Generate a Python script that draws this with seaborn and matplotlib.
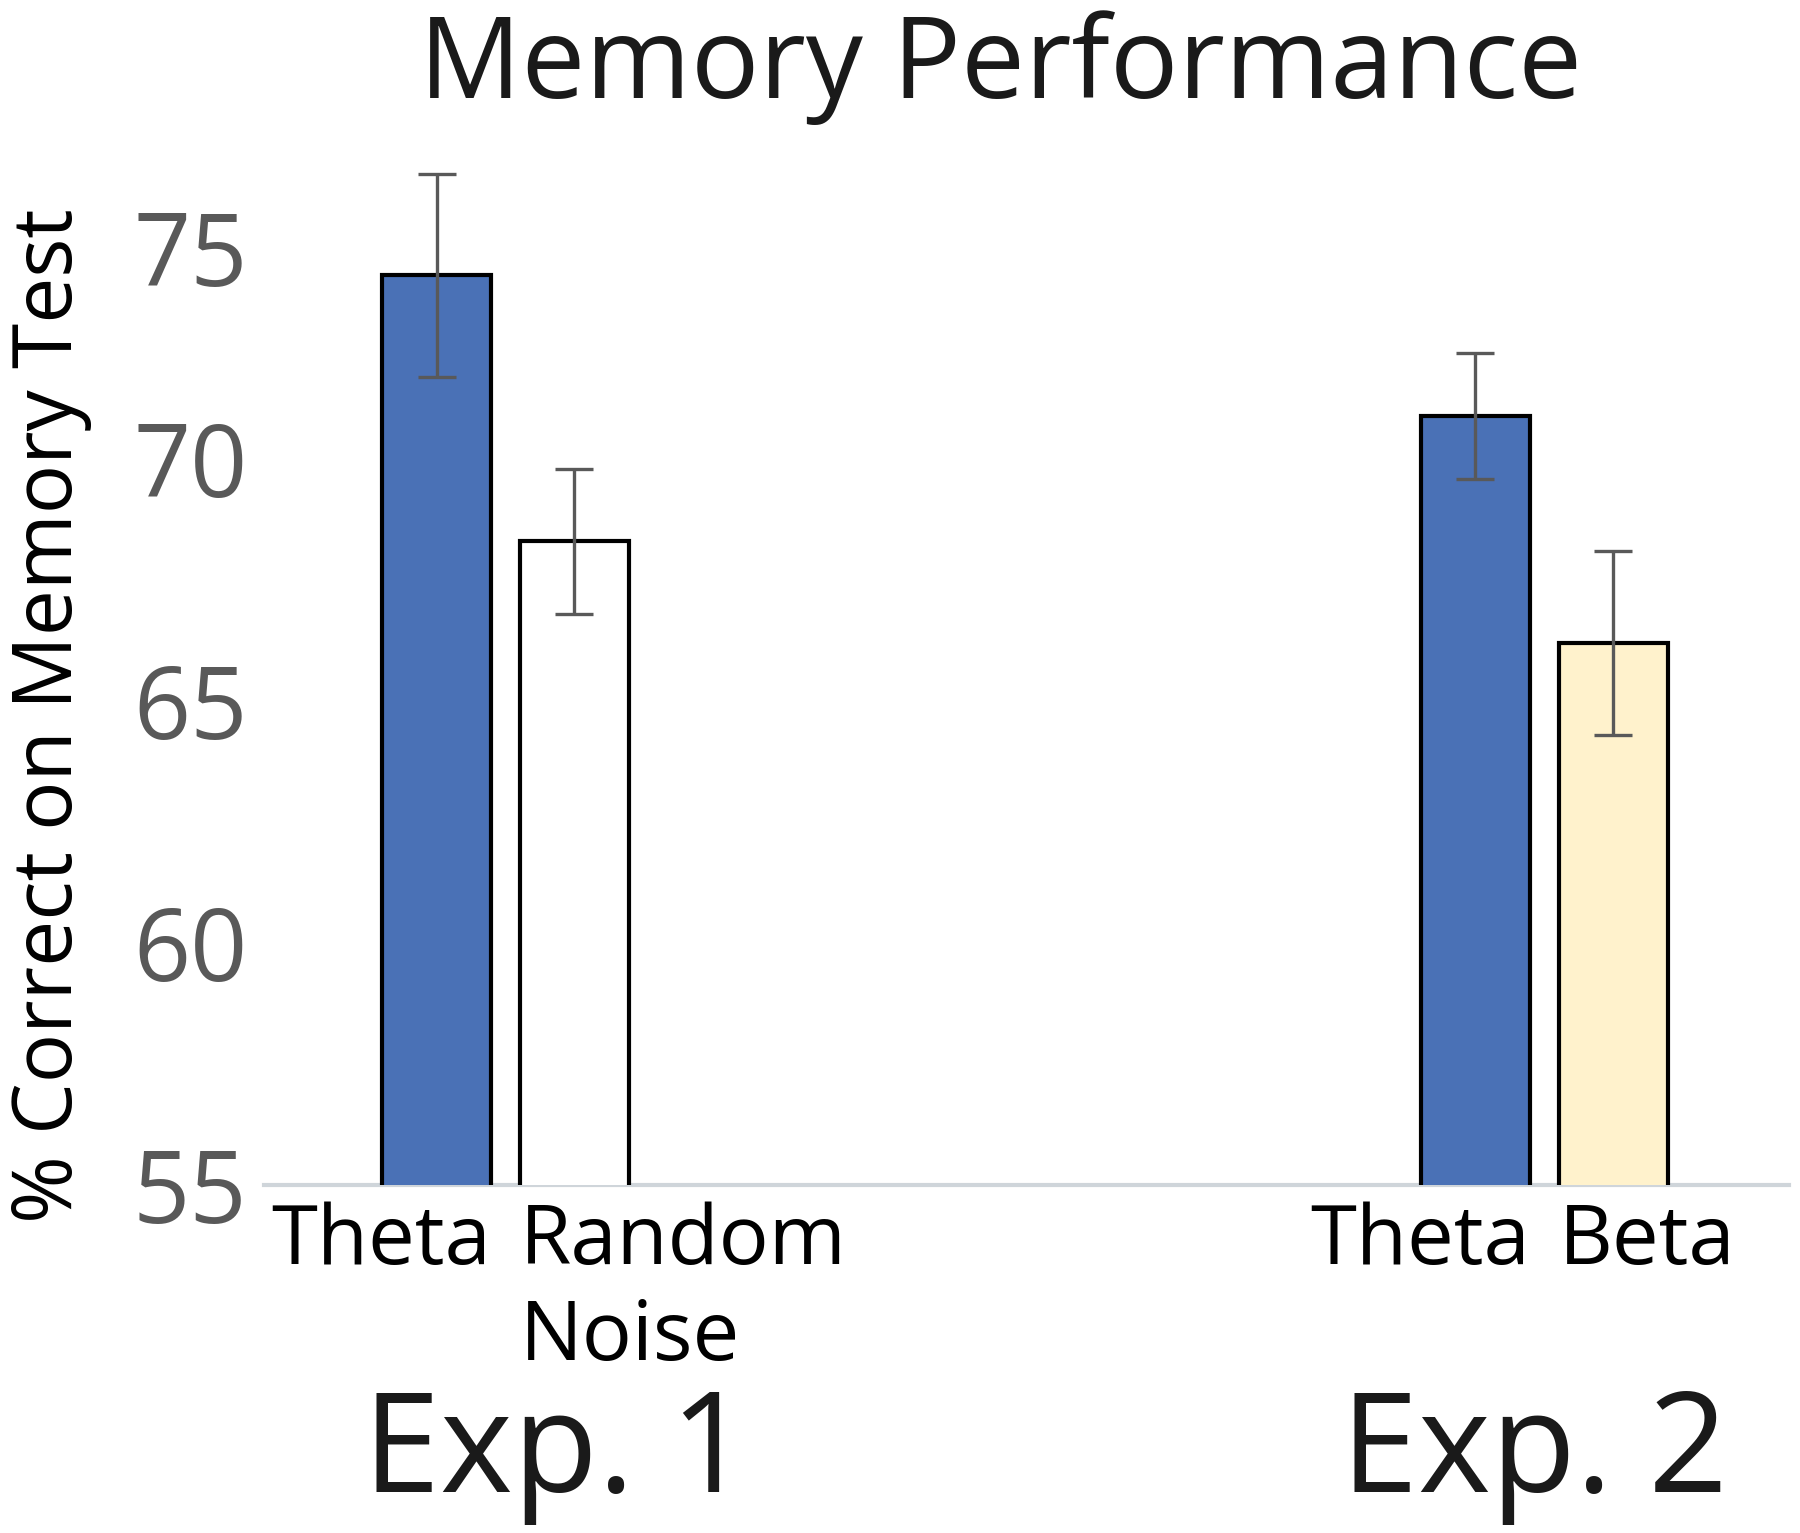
import matplotlib
matplotlib.use("Agg")
import matplotlib.pyplot as plt
import matplotlib.transforms as mtransforms
import numpy as np
import pandas as pd
import seaborn as sns

# data
experiments = ["Exp. 1", "Exp. 2"]
conditions = ["Theta", "Random\nNoise", "Theta", "Beta"]
bar_group = [0, 0, 1, 1]
means = [73.8, 68.3, 70.9, 66.2]
errors = [2.1, 1.5, 1.3, 1.9]
yticks = [55, 60, 65, 70, 75]

colors = {"Theta": "#4A71B6", "Random\nNoise": "#FFFFFF", "Beta": "#FFF2CC"}

# layout
group_gap = 7.53
bar_width = 0.79
within = [0, 1, 0, 1]
xpos = [g * group_gap + w for g, w in zip(bar_group, within)]

df = pd.DataFrame({"x": xpos, "condition": conditions, "mean": means})

sns.set_style("white")
plt.rcParams["font.family"] = ["Open Sans", "DejaVu Sans"]

fig = plt.figure(figsize=(18, 15.33), dpi=100)
ax = fig.add_axes([0.1467, 0.227, 0.847, 0.726])

sns.barplot(data=df, x="x", y="mean", hue="condition", palette=colors,
            native_scale=True, dodge=False, width=bar_width, errorbar=None,
            saturation=1, edgecolor="black", linewidth=3.0, legend=False,
            ax=ax, zorder=2)

ax.errorbar(xpos, means, yerr=errors, fmt="none", ecolor="#595959",
            elinewidth=2.4, capsize=13.5, capthick=2.4, zorder=3)

ax.set_ylim(55, 78)
ax.set_xlim(-1.25, 9.8)

for s in ["top", "right", "left"]:
    ax.spines[s].set_visible(False)
ax.spines["bottom"].set_color("#CFD5DA")
ax.spines["bottom"].set_linewidth(3)
ax.spines["bottom"].set_zorder(1)

ax.set_yticks(yticks)
ax.set_yticklabels([str(t) for t in yticks], fontsize=72, color="#595959")
ax.tick_params(axis="y", length=0, pad=12)
# top label sits a bit lower in the original
top_lbl = ax.get_yticklabels()[-1]
top_lbl.set_transform(top_lbl.get_transform() +
                      mtransforms.ScaledTranslation(0, -0.31, fig.dpi_scale_trans))

# x labels: Theta right-aligned to its bar, others left-aligned
tick_x = []
aligns = []
for x, c in zip(xpos, conditions):
    if c == "Theta":
        tick_x.append(x + bar_width / 2)
        aligns.append("right")
    else:
        tick_x.append(x - bar_width / 2)
        aligns.append("left")
ax.set_xticks(tick_x)
ax.set_xticklabels(conditions, fontsize=60, color="black", linespacing=1.22)
for lbl, ha in zip(ax.get_xticklabels(), aligns):
    lbl.set_ha(ha)
    lbl.set_multialignment("left")
ax.tick_params(axis="x", length=0, pad=12)
ax.set_xlabel("")
ax.set_ylabel("")

# experiment labels
exp_x = [0.87, 7.96]
for name, x in zip(experiments, exp_x):
    ax.text(x, 0.027, name, fontsize=100, color="#1a1a1a", ha="center", va="baseline",
            transform=mtransforms.blended_transform_factory(ax.transData, fig.transFigure))

fig.text(0.556, 0.936, "Memory Performance", fontsize=82, color="#1a1a1a",
         ha="center", va="baseline")
fig.text(0.028, 0.533, "% Correct on Memory Test", fontsize=59, color="black",
         rotation=90, ha="center", va="center")

fig.savefig("out.png", dpi=100)
